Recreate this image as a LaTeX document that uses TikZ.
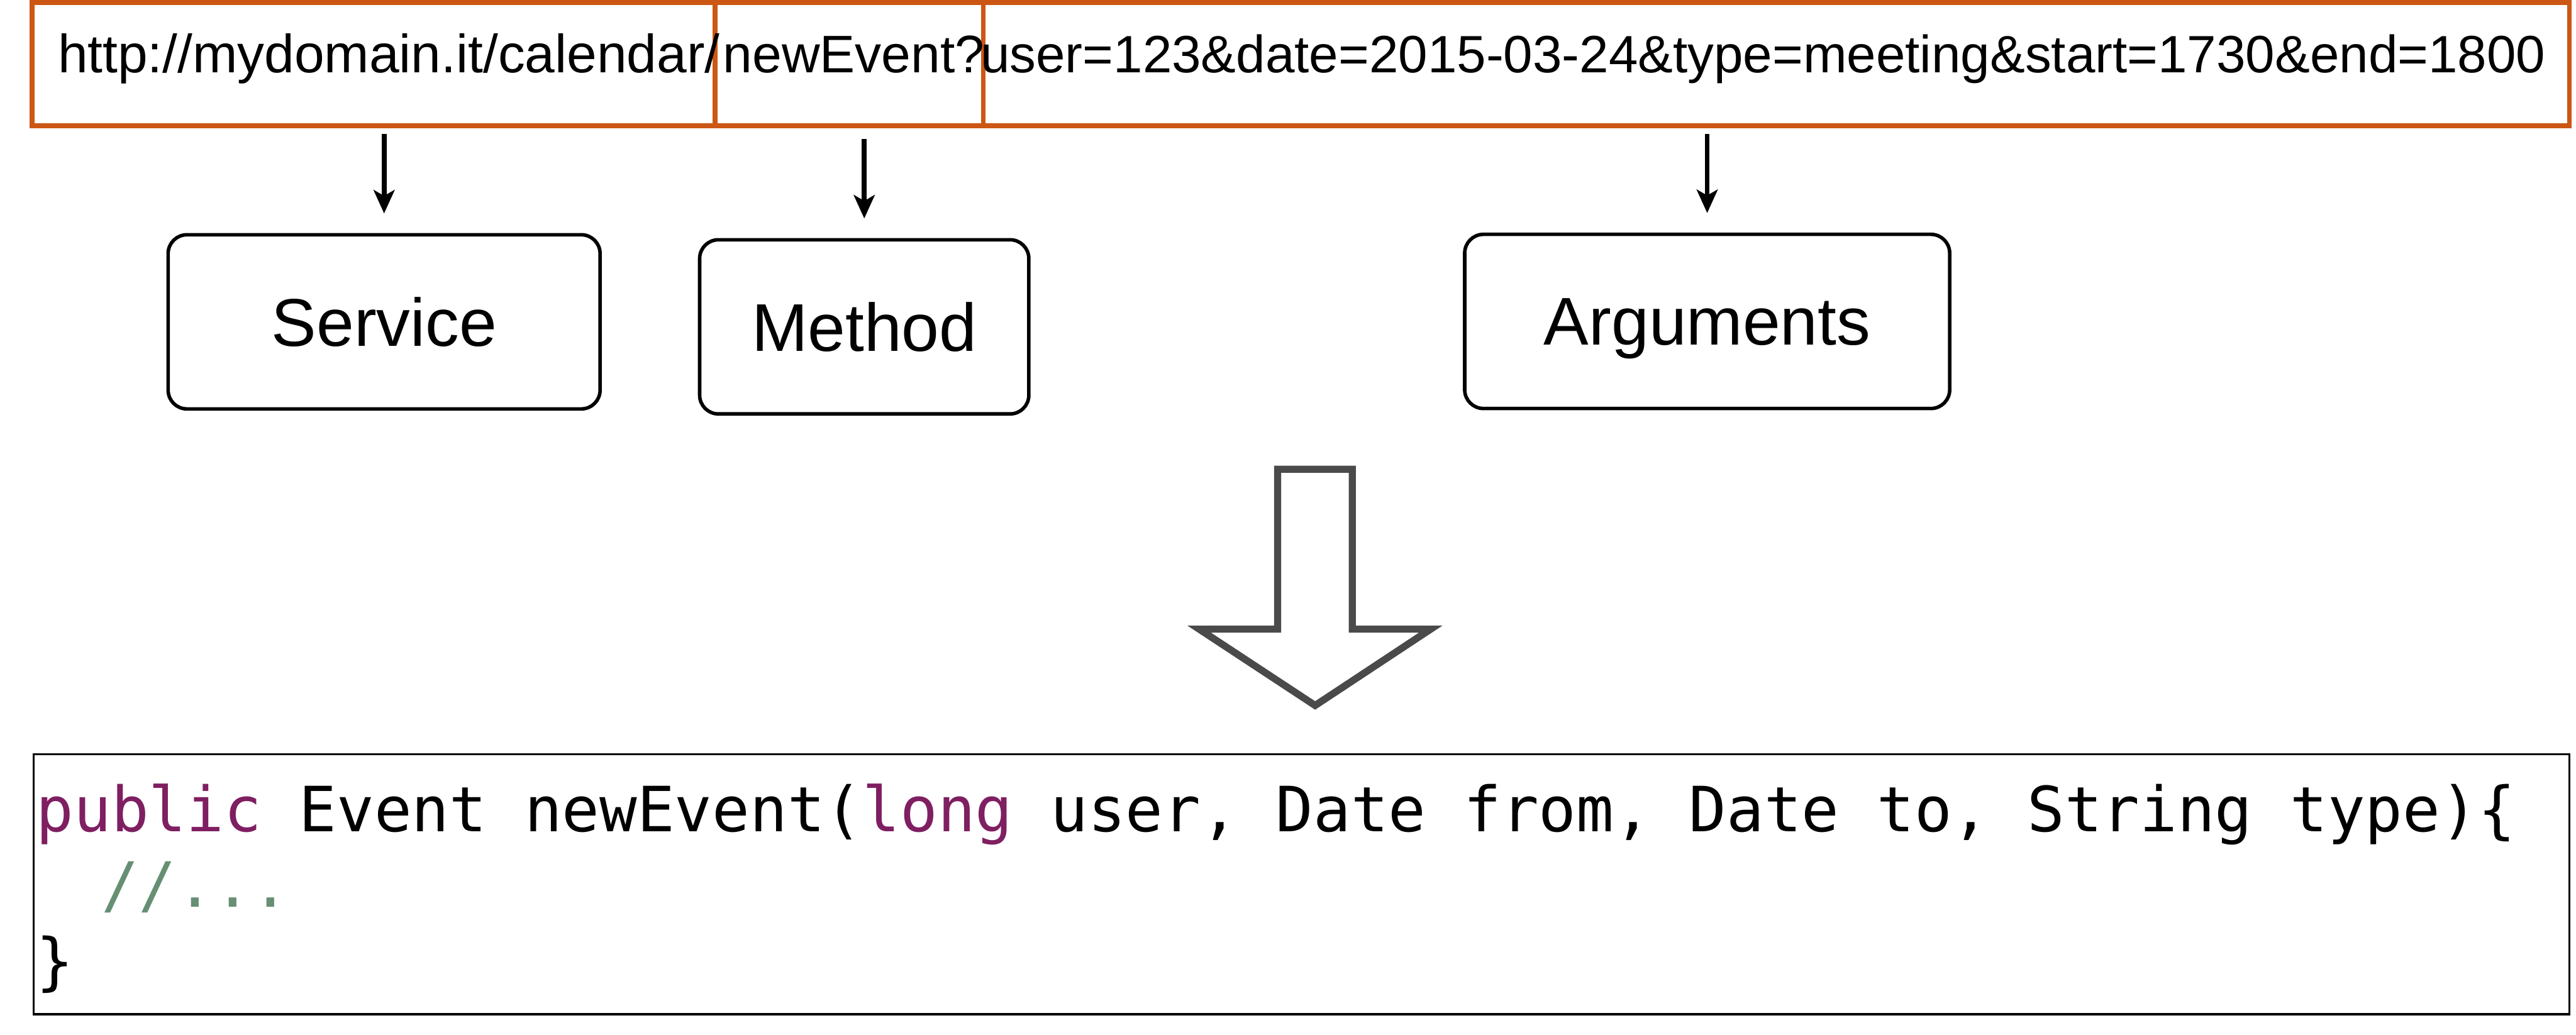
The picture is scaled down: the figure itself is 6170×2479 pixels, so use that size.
\documentclass[tikz,border=0pt]{standalone}
\usepackage{fontspec}
\setmainfont{Liberation Sans}
\newfontfamily\codefont{DejaVu Sans Mono}
\usetikzlibrary{arrows.meta}

\definecolor{urlorange}{RGB}{204,87,20}
\definecolor{keyword}{RGB}{127,31,98}
\definecolor{comment}{RGB}{102,143,115}
\definecolor{bigarrow}{RGB}{74,74,74}

\begin{document}
\begin{tikzpicture}[x=0.01cm, y=-0.01cm,
    part/.style={draw=urlorange, line width=3.1pt, inner sep=0pt, outer sep=0pt,
      minimum height=2.95cm, anchor=north west},
    urltext/.style={anchor=base west, inner sep=0pt, font=\fontsize{#1}{43}\selectfont},
    urltext/.default=36,
    role/.style={draw, line width=2.4pt, rounded corners=0.45cm, inner sep=0pt,
      outer sep=0pt, minimum height=4.17cm, text depth=0pt,
      font=\fontsize{46}{54}\selectfont},
    arr/.style={line width=3.3pt, -{Stealth[length=0.56cm, width=0.5cm, inset=0.14cm]},
      shorten <=0.2cm, shorten >=0.51cm},
    code/.style={anchor=base west, inner sep=0pt, font=\codefont\fontsize{42.5}{51}\selectfont}]
  \useasboundingbox (0,0) rectangle (6170,2479);

  % URL split in three parts
  \node[part, minimum width=16.35cm] (host) at (77,6) {};
  \node[part, minimum width=6.43cm] (call) at (1712,6) {};
  \node[part, minimum width=37.97cm] (query) at (2355,6) {};
  \node[urltext=36.7] (hosttext) at (138,174) {http://mydomain.it/calendar/};
  \node[urltext] (calltext) at (1731,174) {newEvent?};
  \node[urltext=35.8] (querytext) at (2348,174)
    {user=123\&date=2015-03-24\&type=meeting\&start=1730\&end=1800};

  % What each part means
  \node[role, minimum width=10.34cm] (service) at (920,771) {Service};
  \node[role, minimum width=7.88cm] (method) at (2070,783) {Method};
  \node[role, minimum width=11.61cm] (arguments) at (4089,770) {Arguments};

  \draw[arr] (service.north |- host.south) -- (service.north);
  \draw[arr, shorten <=0.32cm] (method.north |- call.south) -- (method.north);
  \draw[arr] (arguments.north |- query.south) -- (arguments.north);

  % Hollow arrow down to the code
  \draw[bigarrow, line width=4.84pt] (3060,1124) -- (3239,1124) -- (3239,1507) -- (3427,1507)
    -- (3150,1690) -- (2872,1507) -- (3060,1507) -- cycle;

  % Resulting Java method
  \node[draw, line width=1.4pt, inner sep=0pt, minimum width=60.70cm, minimum height=6.23cm]
    (javabox) at (3117,2118) {};
  \node[code] (sig) at (86,1992)
    {{\color{keyword}public} Event newEvent({\color{keyword}long} user, Date from, Date to, String type)\{};
  \node[code, text=comment] (body) at (242,2173) {//...};
  \node[code] (close) at (86,2355) {\}};
\end{tikzpicture}
\end{document}
